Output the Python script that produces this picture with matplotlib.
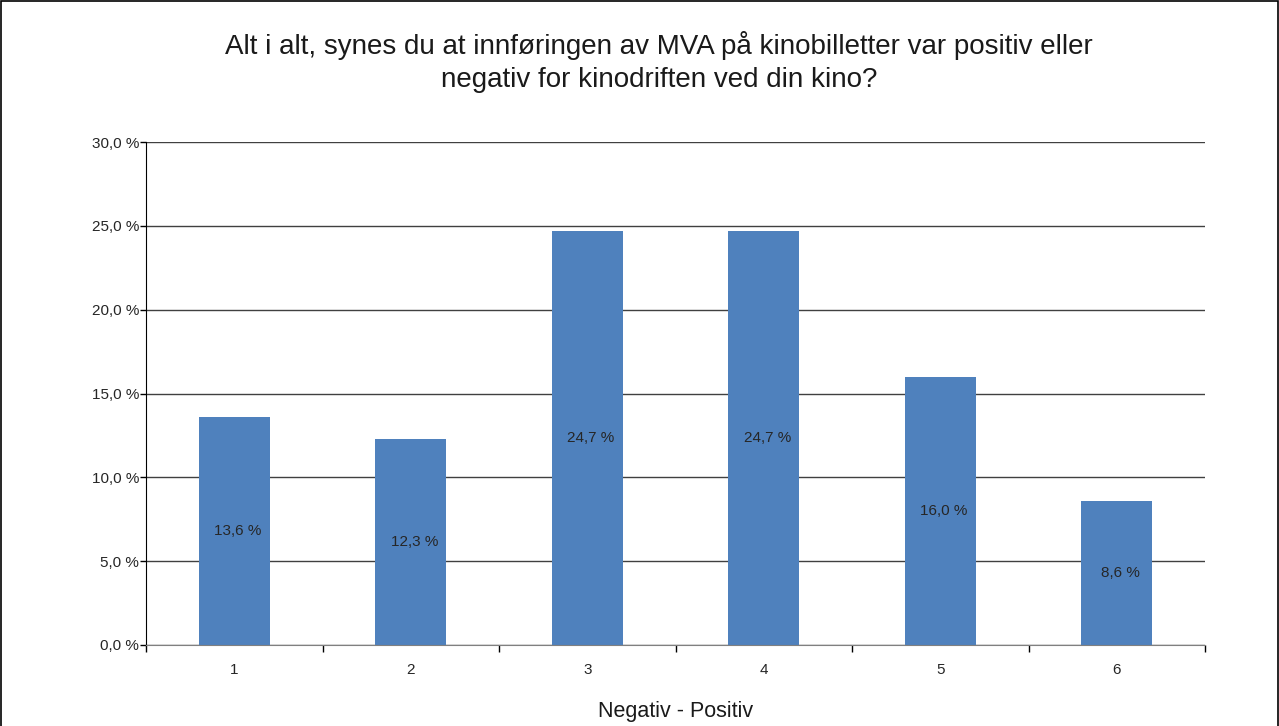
import matplotlib.pyplot as plt
import matplotlib.patches as mpatches
import numpy as np

plt.rcParams['font.family'] = ['Liberation Sans', 'DejaVu Sans']

categories = ['1', '2', '3', '4', '5', '6']
values = [13.6, 12.3, 24.7, 24.7, 16.0, 8.6]
title = "Alt i alt, synes du at innføringen av MVA på kinobilletter var positiv eller\nnegativ for kinodriften ved din kino?"

fig = plt.figure(figsize=(12.79, 7.26), dpi=100)
ax = fig.add_axes([146 / 1279, 1 - 645 / 726, (1205 - 146) / 1279, (645 - 142) / 726])

x = np.arange(len(categories))
bars = ax.bar(x, values, width=0.4, color='#4F81BD', zorder=3)
for xi, v in zip(x, values):
    ax.text(xi + 0.02, v / 2, f"{v:.1f} %".replace('.', ','), ha='center', va='center',
            fontsize=11, color='#262626', zorder=4)

ax.set_xlim(-0.5, len(categories) - 0.5)
ax.set_ylim(0, 30)
yt = np.arange(0, 31, 5)
ax.set_yticks(yt)
ax.set_yticklabels([f"{t:.1f} %".replace('.', ',') for t in yt], fontsize=11, color='#262626')
ax.set_xticks(x)
ax.set_xticklabels(categories, fontsize=11, color='#262626')
ax.set_xticks(np.arange(-0.5, len(categories)), minor=True)
ax.tick_params(axis='x', which='major', length=0, pad=13)
ax.tick_params(axis='x', which='minor', length=5, width=1, color='#000000')
ax.tick_params(axis='y', length=4, width=1, pad=1)
ax.grid(axis='y', color='#404040', linewidth=1, zorder=0)
ax.spines['right'].set_visible(False)
ax.spines['top'].set_visible(False)
ax.spines['left'].set_color('#000000')
ax.spines['bottom'].set_color('#808080')
ax.spines['bottom'].set_zorder(5)

ax.set_xlabel('Negativ - Positiv', fontsize=15.5, color='#1a1a1a', labelpad=17)
fig.text(659 / 1279, 1 - 62 / 726, title, ha='center', va='center', fontsize=20,
         color='#1a1a1a', linespacing=1.32)

border = mpatches.Rectangle((0.5 / 1279, -0.01), 1 - 1.5 / 1279, 1.01 - 0.5 / 726,
                            transform=fig.transFigure, fill=False,
                            edgecolor='black', linewidth=1.2)
fig.patches.append(border)

fig.savefig('out.png', dpi=100)
